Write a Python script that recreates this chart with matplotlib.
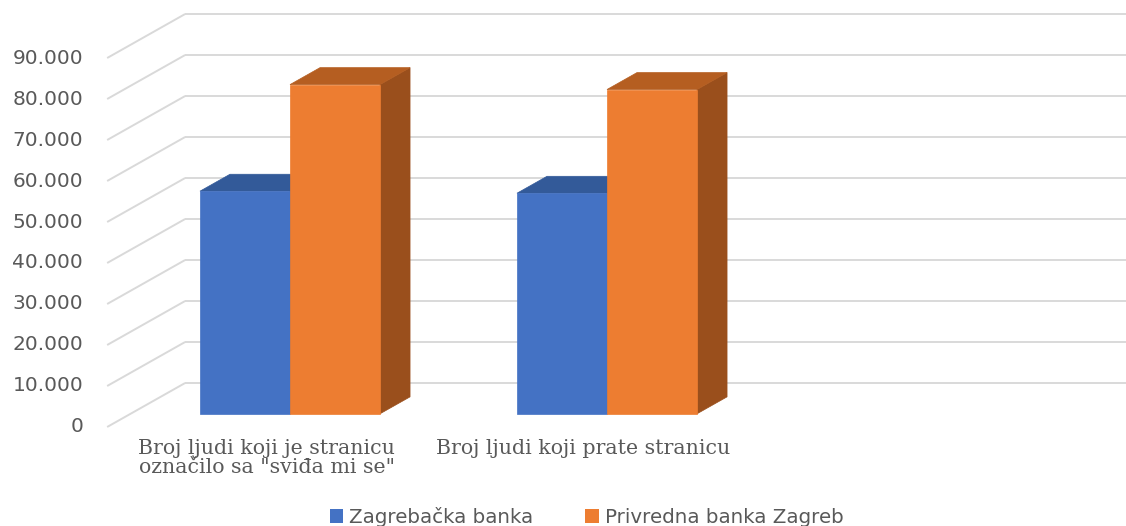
import matplotlib
matplotlib.use("Agg")
import matplotlib.pyplot as plt
from matplotlib.patches import Polygon, Patch
import numpy as np

# Data
categories = ['Broj ljudi koji je stranicu\noznačilo sa "sviđa mi se"',
              'Broj ljudi koji prate stranicu']
series_names = ["Zagrebačka banka", "Privredna banka Zagreb"]
zaba_values = [54300, 53800]
pbz_values = [80300, 79100]
y_ticks = np.arange(0, 90001, 10000)
tick_labels = ["0" if t == 0 else f"{t // 1000}.000" for t in y_ticks]

# colours: front, top, side
FACE = {
    "Zagrebačka banka": ("#4472C4", "#335A99", "#2F5597"),
    "Privredna banka Zagreb": ("#ED7D31", "#B55E21", "#9A4F1C"),
}
GRID = "#D9D9D9"
TEXT = "#595959"

# oblique "3D" projection: depth d in [0, 1] shifts right and up
DX = 0.246      # category units for full depth
DY = 10730      # value units for full depth
WALL_X = -0.503  # left edge of the floor/wall at front
BAR_W = 0.284
D0, D1 = 0.30, 0.685


def proj(c, v, d):
    return (c + d * DX, v + d * DY)


fig = plt.figure(figsize=(11.26, 5.26), dpi=100)
ax = fig.add_axes([0, 0, 1, 1])
ax.set_xlim(-0.841, 2.711)
ax.set_ylim(-24150, 104150)
ax.axis("off")

# gridlines: diagonal on the side wall + horizontal on the back wall
for t, lab in zip(y_ticks, tick_labels):
    x0, y0 = proj(WALL_X, t, 0)
    x1, y1 = proj(WALL_X, t, 1)
    ax.plot([x0, x1], [y0, y1], color=GRID, lw=1.4, zorder=1, solid_capstyle="butt")
    ax.plot([x1, 3.0], [y1, y1], color=GRID, lw=1.4, zorder=1, solid_capstyle="butt")
    ax.annotate(lab, (x0, y0), xytext=(-24, 0), textcoords="offset pixels",
                ha="right", va="center", fontsize=14.5, color=TEXT,
                family="DejaVu Sans")

# bars
for i, (name, vals) in enumerate(zip(series_names, [zaba_values, pbz_values])):
    front, top, side = FACE[name]
    for j, v in enumerate(vals):
        xl = j + (i - 1) * BAR_W
        xr = xl + BAR_W
        f = [proj(xl, 0, D0), proj(xr, 0, D0), proj(xr, v, D0), proj(xl, v, D0)]
        tp = [proj(xl, v, D0), proj(xr, v, D0), proj(xr, v, D1), proj(xl, v, D1)]
        sd = [proj(xr, 0, D0), proj(xr, v, D0), proj(xr, v, D1), proj(xr, 0, D1)]
        for poly, col in ((sd, side), (tp, top), (f, front)):
            ax.add_patch(Polygon(poly, closed=True, facecolor=col,
                                 edgecolor=col, lw=0.5, zorder=3 + i))

# category labels
for j, lab in enumerate(categories):
    ax.annotate(lab, proj(j, 0, 0), xytext=(0, -12), textcoords="offset pixels",
                ha="center", va="top", fontsize=14.8, color=TEXT,
                family="DejaVu Serif", linespacing=1.0)

handles = [Patch(facecolor=FACE[n][0], edgecolor="none") for n in series_names]
leg = fig.legend(handles, series_names, loc="center", bbox_to_anchor=(0.521, 0.018),
                 ncol=2, frameon=False, fontsize=14.3, handlelength=0.7,
                 handleheight=0.7, handletextpad=0.3, columnspacing=2.6,
                 labelcolor=TEXT)

fig.savefig("out.png", dpi=100)
